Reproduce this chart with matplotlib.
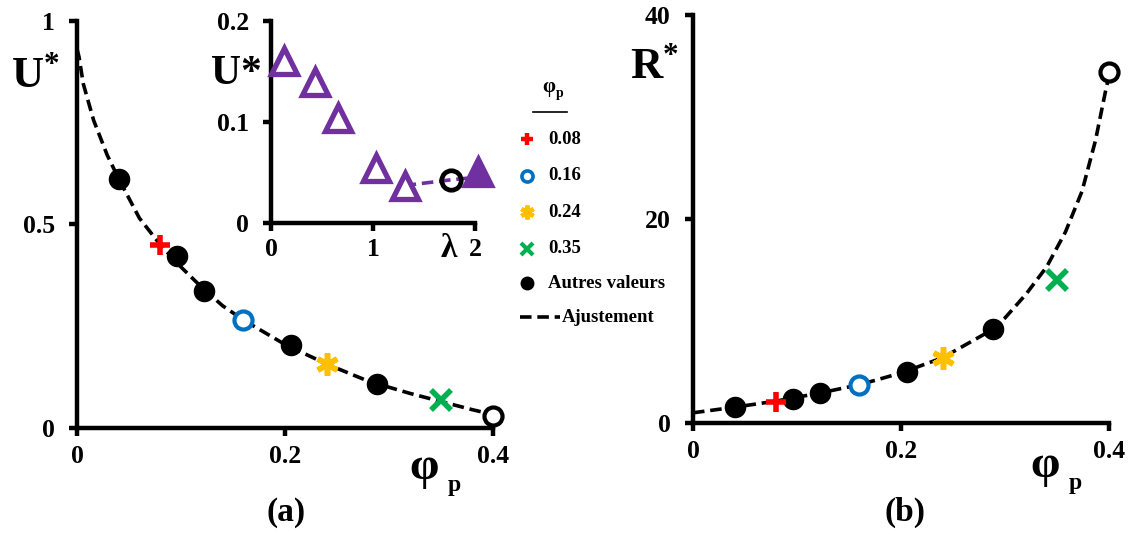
import matplotlib
matplotlib.use("Agg")
import matplotlib.pyplot as plt
from matplotlib.lines import Line2D

plt.rcParams["font.family"] = ["Liberation Serif", "DejaVu Serif"]
plt.rcParams["font.weight"] = "bold"
plt.rcParams["mathtext.fontset"] = "custom"
plt.rcParams["mathtext.rm"] = "Liberation Serif:bold"
plt.rcParams["mathtext.bf"] = "Liberation Serif:bold"
plt.rcParams["mathtext.it"] = "Liberation Serif:bold"

# ---------------- data ----------------
phi_other = [0.040, 0.096, 0.122, 0.206, 0.288]
u_other = [0.612, 0.423, 0.335, 0.203, 0.108]
r_other = [1.55, 2.4, 2.95, 5.0, 9.2]

phi_special = [0.08, 0.16, 0.24, 0.35]
u_special = [0.449, 0.266, 0.157, 0.069]
r_special = [2.1, 3.7, 6.4, 14.0]
special_labels = ["0.08", "0.16", "0.24", "0.35"]

phi_open = [0.40]
u_open = [0.030]
r_open = [34.4]

fit_phi_u = [0.0, 0.002, 0.006, 0.016, 0.029, 0.040, 0.060, 0.080, 0.100, 0.120,
             0.140, 0.160, 0.180, 0.200, 0.240, 0.280, 0.320, 0.350, 0.380, 0.400]
fit_u = [0.93, 0.91, 0.845, 0.755, 0.67, 0.612, 0.515, 0.45, 0.395, 0.345,
         0.30, 0.265, 0.235, 0.205, 0.157, 0.115, 0.085, 0.065, 0.045, 0.033]

fit_phi_r = [0.0, 0.04, 0.08, 0.12, 0.16, 0.20, 0.24, 0.28, 0.30, 0.32,
             0.34, 0.358, 0.374, 0.387, 0.397, 0.400]
fit_r = [1.0, 1.55, 2.15, 2.9, 3.75, 4.9, 6.4, 8.7, 10.3, 12.6,
         15.3, 18.7, 22.7, 27.7, 32.7, 34.0]

lam_open = [0.13, 0.435, 0.66, 1.03, 1.31]
u_lam_open = [0.160, 0.139, 0.104, 0.054, 0.037]
lam_circle = [1.76]
u_lam_circle = [0.0426]
lam_filled = [2.03]
u_lam_filled = [0.050]
lam_dash = [1.31, 1.76, 2.0]
u_lam_dash = [0.037, 0.0426, 0.045]

xticks_phi = [0, 0.2, 0.4]
xtick_labels_phi = ["0", "0.2", "0.4"]
yticks_u = [0, 0.5, 1]
ytick_labels_u = ["0", "0.5", "1"]
yticks_r = [0, 20, 40]
ytick_labels_r = ["0", "20", "40"]
xticks_lam = [0, 1, 2]
yticks_lam = [0, 0.1, 0.2]
ytick_labels_lam = ["0", "0.1", "0.2"]

RED, BLUE, YEL, GRN, PUR = "#FF0000", "#0070C0", "#FFC000", "#00B050", "#7030A0"
special_styles = [
    dict(marker="+", color=RED, ms=14, mew=4),
    dict(marker="o", color=BLUE, mfc="white", ms=13, mew=3),
    dict(marker=(6, 2, 0), color=YEL, ms=16, mew=4),
    dict(marker="x", color=GRN, ms=14, mew=4),
]

W, H = 1133, 534
fig = plt.figure(figsize=(W / 100, H / 100), dpi=100)


def box(x0, y0, x1, y1):
    return [x0 / W, 1 - y1 / H, (x1 - x0) / W, (y1 - y0) / H]


TICKFS = 18.5
DASH = (3.2, 1.6)


def style_axes(ax, xpad=6):
    for s in ("top", "right"):
        ax.spines[s].set_visible(False)
    for s in ("left", "bottom"):
        ax.spines[s].set_linewidth(3.2)
    ax.tick_params(direction="out", length=6, width=3.2, labelsize=TICKFS)
    ax.tick_params(axis="y", pad=10)
    ax.tick_params(axis="x", pad=xpad)
    for lab in ax.get_xticklabels() + ax.get_yticklabels():
        lab.set_fontweight("bold")


def draw_panel(ax, xs_o, ys_o, xs_s, ys_s, xs_open, ys_open, fx, fyv):
    ax.plot(fx, fyv, color="black", lw=2.6, dashes=DASH, zorder=2, clip_on=False)
    ax.plot(xs_o, ys_o, "o", color="black", ms=14.5, zorder=3, clip_on=False)
    for x, y, st in zip(xs_s, ys_s, special_styles):
        ax.plot([x], [y], ls="none", zorder=4, clip_on=False, **st)
    ax.plot(xs_open, ys_open, "o", mfc="white", mec="black", ms=13, mew=3,
            zorder=4, clip_on=False)


# ---------------- panel (a) ----------------
axA = fig.add_axes(box(77, 20.5, 493, 428))
draw_panel(axA, phi_other, u_other, phi_special, u_special, phi_open, u_open,
           fit_phi_u, fit_u)
axA.set_xlim(0, 0.4)
axA.set_ylim(0, 1)
axA.set_xticks(xticks_phi, xtick_labels_phi)
axA.set_yticks(yticks_u, ytick_labels_u)
style_axes(axA)

# ---------------- panel (b) ----------------
axB = fig.add_axes(box(693, 15, 1109, 423))
draw_panel(axB, phi_other, r_other, phi_special, r_special, phi_open, r_open,
           fit_phi_r, fit_r)
axB.set_xlim(0, 0.4)
axB.set_ylim(0, 40)
axB.set_xticks(xticks_phi, xtick_labels_phi)
axB.set_yticks(yticks_r, ytick_labels_r)
style_axes(axB)

# ---------------- inset ----------------
axI = fig.add_axes(box(271, 20.5, 475, 223))
axI.patch.set_alpha(0)
axI.plot(lam_dash, u_lam_dash, color=PUR, lw=2.6, dashes=DASH, zorder=2, clip_on=False)
axI.plot(lam_open, u_lam_open, "^", mfc="white", mec=PUR, ms=19, mew=3.8,
         zorder=3, clip_on=False)
axI.plot(lam_filled, u_lam_filled, "^", color=PUR, ms=19, mew=3.8, zorder=3,
         clip_on=False)
axI.plot(lam_circle, u_lam_circle, "o", mfc="none", mec="black", ms=14, mew=3.4,
         zorder=4, clip_on=False)
axI.set_xlim(0, 2)
axI.set_ylim(0, 0.2)
axI.set_xticks(xticks_lam, [str(v) for v in xticks_lam])
axI.set_yticks(yticks_lam, ytick_labels_lam)
style_axes(axI, xpad=5)

# ---------------- axis titles ----------------
def ptxt(x, y, s, size, ha="center", **kw):
    fig.text(x / W, 1 - y / H, s, fontsize=size, fontweight="bold",
             ha=ha, va="center", **kw)

ptxt(11, 76, "U$^{*}$", 32, ha="left")
ptxt(211, 74, "U*", 30, ha="left")
ptxt(630, 67, "R$^{*}$", 32, ha="left")
ptxt(424, 468, "φ", 34)
ptxt(454, 486, "p", 17)
ptxt(1045, 466, "φ", 34)
ptxt(1075, 484, "p", 17)
ptxt(449, 249, "λ", 24)
ptxt(286, 513, "(a)", 24)
ptxt(905, 512, "(b)", 24)

# ---------------- legend ----------------
ptxt(549, 87, "φ", 15)
ptxt(560, 94, "p", 10)
fig.add_artist(Line2D([533 / W, 567 / W], [1 - 112 / H, 1 - 112 / H],
                      color="black", lw=1.2))
legend_rows_y = [139, 176, 212, 249, 283, 317]
leg_styles = [dict(marker="+", color=RED, ms=9, mew=3.2),
              dict(marker="o", color=BLUE, mfc="white", ms=8, mew=2.6),
              dict(marker=(6, 2, 0), color=YEL, ms=10, mew=3),
              dict(marker="x", color=GRN, ms=8.5, mew=3)]
for lab, st, yy in zip(special_labels, leg_styles, legend_rows_y[:4]):
    fig.add_artist(Line2D([527 / W], [1 - yy / H], ls="none", **st))
    fig.text(548 / W, 1 - yy / H, lab, fontsize=13.5, fontweight="bold",
             ha="left", va="center")
fig.add_artist(Line2D([527 / W], [1 - legend_rows_y[4] / H], ls="none",
                      marker="o", color="black", ms=9))
fig.text(548 / W, 1 - legend_rows_y[4] / H, "Autres valeurs", fontsize=13.5,
         fontweight="bold", ha="left", va="center")
fig.add_artist(Line2D([520 / W, 560 / W], [1 - legend_rows_y[5] / H] * 2,
                      color="black", lw=2.6, dashes=DASH))
fig.text(562 / W, 1 - legend_rows_y[5] / H, "Ajustement", fontsize=13.5,
         fontweight="bold", ha="left", va="center")

fig.savefig("out.png", dpi=100)
